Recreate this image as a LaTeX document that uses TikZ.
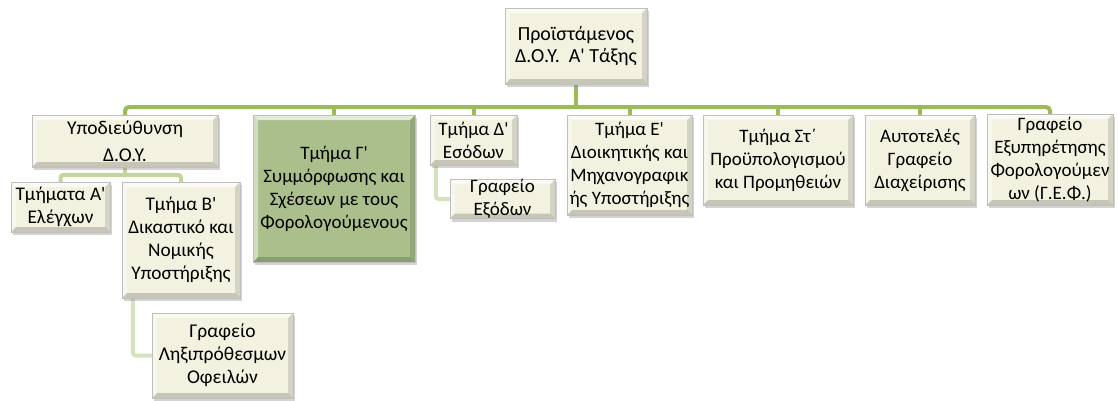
\documentclass[tikz,border=0pt]{standalone}
\usepackage{fontspec}
\setmainfont{Carlito}[Ligatures=TeXReset]
\usetikzlibrary{shadows,backgrounds,calc}
\definecolor{cream}{HTML}{F3F1DF}
\definecolor{gbox}{HTML}{AABF8B}
\definecolor{buscol}{HTML}{9BBB59}
\definecolor{lvtwo}{HTML}{C3D69B}
\definecolor{lvthree}{HTML}{D5E2BE}
\tikzset{
 bevel/.style={path picture={
  \fill[white,opacity=0.7] (path picture bounding box.north west) -- (path picture bounding box.north east) -- ([xshift=-5pt,yshift=-5pt]path picture bounding box.north east) -- ([xshift=5pt,yshift=-5pt]path picture bounding box.north west) -- cycle;
  \fill[white,opacity=0.45] (path picture bounding box.north west) -- ([xshift=5pt,yshift=-5pt]path picture bounding box.north west) -- ([xshift=5pt,yshift=5pt]path picture bounding box.south west) -- (path picture bounding box.south west) -- cycle;
  \fill[black,opacity=0.12] (path picture bounding box.north east) -- (path picture bounding box.south east) -- ([xshift=-5pt,yshift=5pt]path picture bounding box.south east) -- ([xshift=-5pt,yshift=-5pt]path picture bounding box.north east) -- cycle;
  \fill[black,opacity=0.18] (path picture bounding box.south west) -- (path picture bounding box.south east) -- ([xshift=-5pt,yshift=5pt]path picture bounding box.south east) -- ([xshift=5pt,yshift=5pt]path picture bounding box.south west) -- cycle;
 }},
 orgbox/.style={draw=black!25, line width=0.4pt, fill=cream, bevel,
   drop shadow={opacity=0.35,shadow xshift=1.5pt,shadow yshift=-3pt},
   align=center, inner sep=0pt, font=\fontsize{19}{23}\selectfont, text=black},
 greenbox/.style={orgbox, fill=gbox},
 bus/.style={draw=buscol, line width=4pt, rounded corners=4pt},
 ctwo/.style={draw=lvtwo, line width=4pt, rounded corners=3pt},
 cthree/.style={draw=lvthree, line width=4pt, rounded corners=3pt},
}
\begin{document}
\begin{tikzpicture}[x=1pt,y=-1pt]
\useasboundingbox (0,0) rectangle (1118,400);
\node[orgbox, minimum width=142pt, minimum height=76pt, font=\fontsize{20}{22}\selectfont] (top) at (576,46) {Προϊστάμενος\\Δ.Ο.Υ.~~Α' Τάξης};
\node[orgbox, minimum width=186pt, minimum height=52pt, font=\fontsize{19.5}{27}\selectfont] (sub) at (125,141) {Υποδιεύθυνση\\Δ.Ο.Υ.};
\node[greenbox, minimum width=162pt, minimum height=147pt] (g) at (334,188.5) {Τμήμα Γ'\\Συμμόρφωσης και\\Σχέσεων με τους\\Φορολογούμενους};
\node[orgbox, minimum width=87pt, minimum height=50pt] (d) at (473.5,140) {Τμήμα Δ'\\Εσόδων};
\node[orgbox, minimum width=125pt, minimum height=100pt] (e) at (629.5,165) {Τμήμα Ε'\\Διοικητικής και\\Μηχανογραφικ\\ής Υποστήριξης};
\node[orgbox, minimum width=150pt, minimum height=90pt] (st) at (778,160) {Τμήμα Στ΄\\Προϋπολογισμού\\και Προμηθειών};
\node[orgbox, minimum width=110pt, minimum height=90pt] (au) at (920,160) {Αυτοτελές\\Γραφείο\\Διαχείρισης};
\node[orgbox, minimum width=126pt, minimum height=91pt] (gef) at (1050,159.5) {Γραφείο\\Εξυπηρέτησης\\Φορολογούμεν\\ων (Γ.Ε.Φ.)};
\node[orgbox, minimum width=99pt, minimum height=50pt, font=\fontsize{19.3}{23}\selectfont] (a) at (60.5,207) {Τμήματα Α'\\Ελέγχων};
\node[orgbox, minimum width=118pt, minimum height=116pt, font=\fontsize{19.3}{23}\selectfont] (b) at (181,240) {Τμήμα Β'\\Δικαστικό και\\Νομικής\\Υποστήριξης};
\node[orgbox, minimum width=141pt, minimum height=85pt, font=\fontsize{19.5}{23}\selectfont] (lix) at (222.5,355.5) {Γραφείο\\Ληξιπρόθεσμων\\Οφειλών};
\node[orgbox, minimum width=105pt, minimum height=38pt] (exo) at (502.5,199) {Γραφείο\\Εξόδων};
\coordinate (busR) at (gef.north |- 0,107);
\begin{pgfonlayer}{background}
\draw[bus] (sub.north) |- (busR) -- (gef.north);
\draw[bus, rounded corners=0pt] (top.south) -- (top.south |- busR);
\foreach \n in {g,d,e,st,au}{\draw[bus, rounded corners=0pt] (\n.north) -- (\n.north |- busR);}
\draw[ctwo, rounded corners=0pt] (sub.south) -- ++(0,8);
\draw[ctwo] (a.north) -- ++(0,-7) -| (b.north);
\draw[cthree] ($(b.south west)+(11,0)$) |- (lix.west);
\draw[cthree] ($(d.south west)+(6,0)$) |- (exo.west);
\end{pgfonlayer}
\end{tikzpicture}
\end{document}
